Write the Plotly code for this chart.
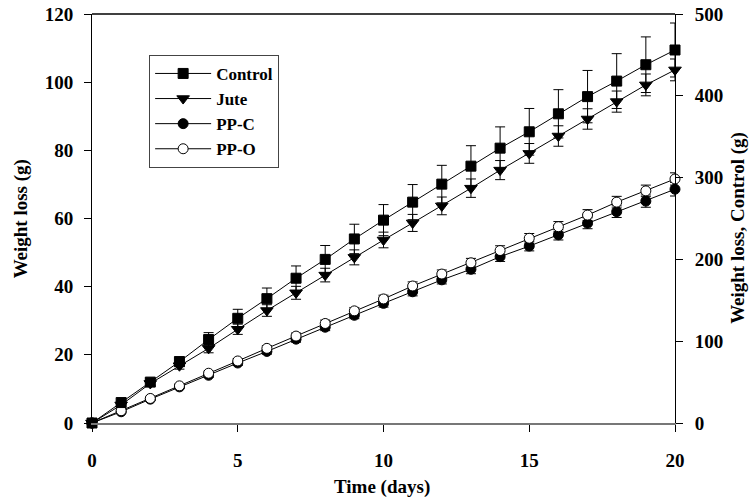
import plotly.graph_objects as go

days = list(range(0, 21))
control = [0, 25, 50, 75, 102, 128, 152, 177, 200, 225, 248, 270, 292, 314, 336, 356, 378, 399, 418, 438, 456]
control_err = [0, 2, 4, 6, 8.5, 11, 13, 15, 17, 18, 19, 21.5, 23, 25, 26, 28.5, 29.5, 32, 33.5, 34, 33]
jute = [0, 5.3, 11.6, 16.8, 21.9, 27.5, 33.0, 38.2, 43.4, 48.6, 53.7, 58.7, 63.7, 68.9, 74.2, 79.1, 84.2, 89.2, 94.3, 99.2, 103.6]
jute_err = [0, 0.5, 0.8, 1.0, 1.3, 1.5, 1.7, 1.9, 2.0, 2.2, 2.3, 2.5, 2.6, 2.7, 2.8, 2.9, 3.0, 3.0, 3.1, 3.2, 3.2]
ppc = [0, 3.3, 7.0, 10.6, 14.0, 17.6, 21.0, 24.6, 28.1, 31.6, 35.1, 38.5, 42.0, 45.1, 48.8, 51.9, 55.2, 58.6, 62.0, 65.1, 68.6]
ppc_err = [0, 0.3, 0.4, 0.5, 0.6, 0.7, 0.8, 0.9, 1.0, 1.0, 1.1, 1.2, 1.2, 1.3, 1.4, 1.4, 1.5, 1.6, 1.7, 1.8, 2.0]
ppo = [0, 3.6, 7.2, 10.9, 14.6, 18.2, 21.9, 25.5, 29.2, 32.9, 36.4, 40.2, 43.7, 47.0, 50.6, 54.2, 57.6, 61.0, 64.8, 68.1, 71.6]
ppo_err = [0, 0.3, 0.4, 0.5, 0.6, 0.7, 0.8, 0.9, 1.0, 1.0, 1.1, 1.2, 1.2, 1.3, 1.4, 1.4, 1.5, 1.6, 1.7, 1.7, 1.8]

x_ticks = [0, 5, 10, 15, 20]
y_ticks = [0, 20, 40, 60, 80, 100, 120]
y2_ticks = [0, 100, 200, 300, 400, 500]

FONT = "Liberation Serif, Times New Roman, serif"

fig = go.Figure()

def add(name, y, err, symbol, fill, axis):
    fig.add_trace(go.Scatter(
        x=days, y=y, name=name, mode="lines+markers", yaxis=axis,
        line=dict(color="black", width=1),
        marker=dict(symbol=symbol, size=10 if symbol != "triangle-down" else 11,
                    color=fill, line=dict(color="black", width=1)),
        error_y=dict(type="data", array=err, visible=True, color="black", thickness=1, width=5),
        cliponaxis=False,
    ))

add("Control", control, control_err, "square", "black", "y2")
add("Jute", jute, jute_err, "triangle-down", "black", "y")
add("PP-C", ppc, ppc_err, "circle", "black", "y")
add("PP-O", ppo, ppo_err, "circle", "white", "y")

axis_common = dict(ticks="outside", ticklen=7, tickcolor="black", showgrid=False,
                   zeroline=False, automargin=False,
                   tickfont=dict(family=FONT, size=19, weight="bold"))

fig.update_layout(
    width=754, height=501,
    margin=dict(l=92, r=79, t=14, b=78),
    paper_bgcolor="white", plot_bgcolor="white",
    font=dict(family=FONT, color="black", size=17, weight="bold"),
    showlegend=True,
    legend=dict(
        x=0.098, y=0.9, xanchor="left", yanchor="top",
        bgcolor="white", bordercolor="#444", borderwidth=1,
        font=dict(family=FONT, size=17, weight="bold"),
        tracegroupgap=0, itemwidth=56, entrywidth=135, entrywidthmode="pixels",
    ),
    xaxis=dict(range=[0, 20], tickvals=x_ticks, showline=True, linecolor="#777", linewidth=2,
               ticklabelstandoff=12, **axis_common),
    yaxis=dict(range=[0, 120], tickvals=y_ticks, showline=True, linecolor="black", linewidth=1,
               ticklabelstandoff=7, **axis_common),
    yaxis2=dict(range=[0, 500], tickvals=y2_ticks, showline=True, linecolor="black", linewidth=1,
                overlaying="y", side="right", anchor="x", ticklabelstandoff=8, **axis_common),
    shapes=[dict(type="line", xref="paper", yref="paper", x0=0, x1=1, y0=1, y1=1,
                 line=dict(color="black", width=1.5))],
    annotations=[
        dict(text="Time (days)", xref="paper", yref="paper", x=0.498, y=-0.157,
             xanchor="center", yanchor="middle", showarrow=False,
             font=dict(family=FONT, size=19, weight="bold")),
        dict(text="Weight loss (g)", xref="paper", yref="paper", x=-0.122, y=0.5,
             xanchor="center", yanchor="middle", textangle=-90, showarrow=False,
             font=dict(family=FONT, size=19, weight="bold")),
        dict(text="Weight loss, Control (g)", xref="paper", yref="paper", x=1.108, y=0.477,
             xanchor="center", yanchor="middle", textangle=-90, showarrow=False,
             font=dict(family=FONT, size=19, weight="bold")),
    ],
)

# remove the default page margin so the 754x501 figure fills the window exactly
fig.write_html("out.html", config={"displayModeBar": False},
               post_script="document.body.style.margin='0px';")
